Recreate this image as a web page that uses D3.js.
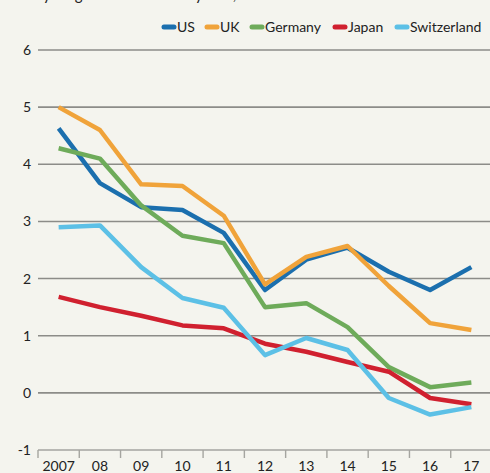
<!DOCTYPE html>
<html><head><meta charset="utf-8">
<script src="https://cdn.jsdelivr.net/npm/d3@7"></script>
<style>
html,body{margin:0;padding:0;background:#f4f4ee;}
svg{display:block;font-family:Lato,"Open Sans",sans-serif;}
</style></head>
<body><svg id="c" width="490" height="473"></svg>
<script>
const title = "10-year government bond yields, %";
const years = [2007,2008,2009,2010,2011,2012,2013,2014,2015,2016,2017];
const yearLabels = ["2007","08","09","10","11","12","13","14","15","16","17"];
const yTicks = [-1,0,1,2,3,4,5,6];
const seriesNames = ["US","UK","Germany","Japan","Switzerland"];
const seriesColors = ["#1b6fae","#f0a33a","#6eab5a","#d0202f","#5cc0e6"];
const us          = [4.63,3.67,3.25,3.2,2.8,1.8,2.33,2.54,2.12,1.8,2.2];
const uk          = [5.0,4.6,3.65,3.62,3.1,1.9,2.38,2.57,1.87,1.22,1.1];
const germany     = [4.28,4.1,3.28,2.75,2.62,1.5,1.57,1.15,0.45,0.1,0.18];
const japan       = [1.68,1.5,1.35,1.18,1.13,0.86,0.72,0.54,0.37,-0.09,-0.2];
const switzerland = [2.9,2.93,2.2,1.66,1.49,0.66,0.96,0.75,-0.09,-0.38,-0.25];
const seriesData = [us,uk,germany,japan,switzerland];

const svg = d3.select("#c");
const x = d3.scaleBand().domain(years).range([38,492]).padding(0);
const y = d3.scaleLinear().domain([-1,6]).range([450,50]);

// title (cropped at top)
svg.append("text").attr("x",20).attr("y",0).attr("font-size",15).attr("fill","#222").text(title);

// gridlines
svg.append("g").selectAll("line").data(yTicks.filter(d=>d>-1)).join("line")
  .attr("x1",38).attr("x2",490).attr("y1",d=>y(d)).attr("y2",d=>y(d))
  .attr("stroke","#8c8c88").attr("stroke-width",1.6);

// y labels
svg.append("g").selectAll("text").data(yTicks).join("text")
  .attr("x",31).attr("y",d=>y(d)+5).attr("text-anchor","end")
  .attr("font-size",14).attr("fill","#222").text(d=>d);

// x axis
const xAxis = d3.axisBottom(x).tickSize(0).tickFormat((d,i)=>yearLabels[i]);
const gx = svg.append("g").attr("transform","translate(0,450)").call(xAxis);
gx.select(".domain").remove();
gx.selectAll("text").attr("font-size",14).attr("fill","#222").attr("font-family","Lato,'Open Sans',sans-serif").attr("dy",0).attr("y",21);
svg.append("line").attr("x1",38).attr("x2",490).attr("y1",450).attr("y2",450)
  .attr("stroke","#a5a5a0").attr("stroke-width",1.6);
svg.append("g").selectAll("line").data(years).join("line")
  .attr("x1",d=>x(d)).attr("x2",d=>x(d)).attr("y1",450).attr("y2",458)
  .attr("stroke","#a5a5a0").attr("stroke-width",1.4);

// lines
const line = d3.line().x((d,i)=>x(years[i])+x.bandwidth()/2).y(d=>y(d));
svg.append("g").selectAll("path").data(seriesData).join("path")
  .attr("d",d=>line(d)).attr("fill","none")
  .attr("stroke",(d,i)=>seriesColors[i]).attr("stroke-width",4.5)
  .attr("stroke-linejoin","round").attr("stroke-linecap","butt");

// legend
const legX = [162,205,250,333,395];
const lg = svg.append("g").selectAll("g").data(seriesNames).join("g")
  .attr("transform",(d,i)=>`translate(${legX[i]},27)`);
lg.append("line").attr("x1",2).attr("x2",12).attr("y1",0).attr("y2",0)
  .attr("stroke",(d,i)=>seriesColors[i]).attr("stroke-width",5).attr("stroke-linecap","round");
lg.append("text").attr("x",15).attr("y",5).attr("font-size",14).attr("fill","#222").text(d=>d);
</script></body></html>
